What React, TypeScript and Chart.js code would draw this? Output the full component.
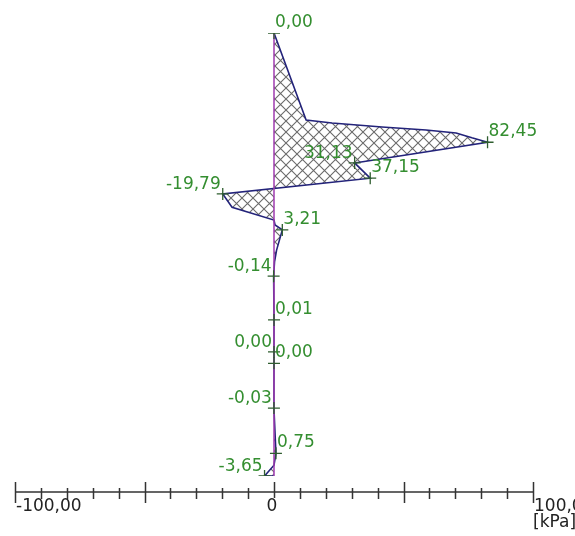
import { useEffect, useRef } from 'react';
import { Chart, registerables } from 'chart.js';

Chart.register(...registerables);

// Earth pressure profile along the wall: value [kPa] against depth [m]
const profileValues = [
  0.0, 12.4, 22.4, 41.7, 58.7, 70.3, 76.4, 82.45, 31.13, 37.15, -19.79, -16.2, 0.0,
  0.4, 3.21, 1.0, 0.2, -0.14, 0.01, 0.0, 0.0, -0.03, 0.75, 0.0, -3.65, 0.0,
];
const profileDepths = [
  0.0, 1.77, 1.83, 1.91, 1.97, 2.03, 2.13, 2.22, 2.64, 2.95, 3.27, 3.54, 3.8,
  3.9, 4.0, 4.41, 4.65, 4.94, 5.83, 6.48, 6.71, 7.62, 8.54, 8.78, 9.0, 9.0,
];

// Annotated points of the profile
const labelValues = [0.0, 82.45, 31.13, 37.15, -19.79, 3.21, -0.14, 0.01, 0.0, 0.0, -0.03, 0.75, -3.65];
const labelDepths = [0.0, 2.22, 2.64, 2.95, 3.27, 4.0, 4.94, 5.83, 6.48, 6.71, 7.62, 8.54, 9.0];
const labelSides = ['r', 'r', 'l', 'r', 'l', 'r', 'l', 'r', 'l', 'r', 'l', 'r', 'l'];

// Wall extent [m]
const wallDepths = [0.0, 9.0];

// Horizontal pressure axis
const axisMin = -100;
const axisMax = 100;
const majorTicks = [-100, -50, 0, 50, 100];
const minorTicks = [-90, -80, -70, -60, -40, -30, -20, -10, 10, 20, 30, 40, 60, 70, 80, 90];
const tickLabelValues = [-100, 0, 100];
const tickLabelTexts = ['-100,00', '0', '100,00'];
const unitLabel = '[kPa]';

const FONT = '17px "DejaVu Sans", Verdana, sans-serif';
const LABEL_GREEN = 'rgb(52,142,48)';

const fmt = (v: number) => v.toFixed(2).replace('.', ',');

function makeHatch(): CanvasPattern | string {
  const s = 11;
  const tile = document.createElement('canvas');
  tile.width = s;
  tile.height = s;
  const c = tile.getContext('2d');
  if (!c) return '#ccc';
  c.strokeStyle = '#6a6a6a';
  c.lineWidth = 1.1;
  c.beginPath();
  c.moveTo(0, 0);
  c.lineTo(s, s);
  c.moveTo(0, s);
  c.lineTo(s, 0);
  c.stroke();
  const p = c.createPattern(tile, 'repeat');
  return p || '#ccc';
}

const pressurePlugin = {
  id: 'pressurePlugin',
  beforeDatasetsDraw(chart: any) {
    const { ctx } = chart;
    const xs = chart.scales.x;
    const ys = chart.scales.y;
    ctx.save();
    ctx.beginPath();
    profileValues.forEach((v, i) => {
      const px = xs.getPixelForValue(v);
      const py = ys.getPixelForValue(profileDepths[i]);
      if (i === 0) ctx.moveTo(px, py);
      else ctx.lineTo(px, py);
    });
    ctx.closePath();
    ctx.fillStyle = chart.$hatch;
    ctx.fill();
    ctx.restore();
  },
  afterDatasetsDraw(chart: any) {
    const { ctx, chartArea } = chart;
    const xs = chart.scales.x;
    const ys = chart.scales.y;
    ctx.save();

    // bottom pressure axis
    const ay = chartArea.bottom + 16;
    ctx.strokeStyle = '#333';
    ctx.lineWidth = 1.5;
    ctx.beginPath();
    ctx.moveTo(xs.getPixelForValue(axisMin), ay);
    ctx.lineTo(xs.getPixelForValue(axisMax), ay);
    minorTicks.forEach((t) => {
      const px = Math.round(xs.getPixelForValue(t)) + 0.5;
      ctx.moveTo(px, ay - 4);
      ctx.lineTo(px, ay + 7);
    });
    majorTicks.forEach((t) => {
      const px = Math.round(xs.getPixelForValue(t)) + 0.5;
      ctx.moveTo(px, ay - 10);
      ctx.lineTo(px, ay + (t === 0 ? 6 : 11));
    });
    ctx.stroke();

    ctx.font = FONT;
    ctx.fillStyle = '#222';
    ctx.textBaseline = 'alphabetic';
    tickLabelValues.forEach((t, i) => {
      const px = xs.getPixelForValue(t);
      if (t === 0) {
        ctx.textAlign = 'center';
        ctx.fillText(tickLabelTexts[i], px - 2, ay + 19);
      } else {
        ctx.textAlign = 'left';
        ctx.fillText(tickLabelTexts[i], px + 1, ay + 19);
      }
    });
    ctx.textAlign = 'left';
    ctx.fillText(unitLabel, xs.getPixelForValue(axisMax), ay + 35);

    // value annotations
    ctx.fillStyle = LABEL_GREEN;
    labelValues.forEach((v, i) => {
      const px = xs.getPixelForValue(v);
      const py = ys.getPixelForValue(labelDepths[i]);
      if (labelSides[i] === 'r') {
        ctx.textAlign = 'left';
        ctx.fillText(fmt(v), px + 1, py - 6);
      } else {
        ctx.textAlign = 'right';
        ctx.fillText(fmt(v), px - 2, py - 5);
      }
    });
    ctx.restore();
  },
};

export default function App() {
  const ref = useRef<HTMLCanvasElement | null>(null);

  useEffect(() => {
    if (!ref.current) return;
    const chart: any = new Chart(ref.current, {
      type: 'scatter',
      data: {
        datasets: [
          {
            label: 'points',
            data: labelValues.map((v, i) => ({ x: v, y: labelDepths[i] })),
            showLine: false,
            pointStyle: 'cross',
            pointRadius: 6,
            pointBorderWidth: 1.3,
            borderColor: '#2f5e2f',
            backgroundColor: '#2f5e2f',
          },
          {
            label: 'wall',
            data: wallDepths.map((d) => ({ x: 0, y: d })),
            showLine: true,
            borderColor: '#a03cb0',
            borderWidth: 1.5,
            pointRadius: 0,
          },
          {
            label: 'profile',
            data: profileValues.map((v, i) => ({ x: v, y: profileDepths[i] })),
            showLine: true,
            borderColor: '#23237a',
            borderWidth: 1.6,
            pointRadius: 0,
            fill: false,
          },
        ],
      },
      options: {
        animation: false,
        responsive: false,
        maintainAspectRatio: false,
        layout: { padding: { left: 15, right: 42, top: 33, bottom: 60 } },
        scales: {
          x: { type: 'linear', min: axisMin, max: axisMax, display: false },
          y: { type: 'linear', min: wallDepths[0], max: wallDepths[1], reverse: true, display: false },
        },
        plugins: {
          legend: { display: false },
          tooltip: { enabled: false },
        },
      },
      plugins: [
        {
          id: 'hatchInit',
          beforeInit(c: any) {
            c.$hatch = makeHatch();
          },
        },
        pressurePlugin,
      ],
    });
    return () => chart.destroy();
  }, []);

  return (
    <div style={{ position: 'fixed', left: 0, top: 0, width: 575, height: 536, background: '#fff' }}>
      <canvas ref={ref} width={575} height={536} />
    </div>
  );
}
